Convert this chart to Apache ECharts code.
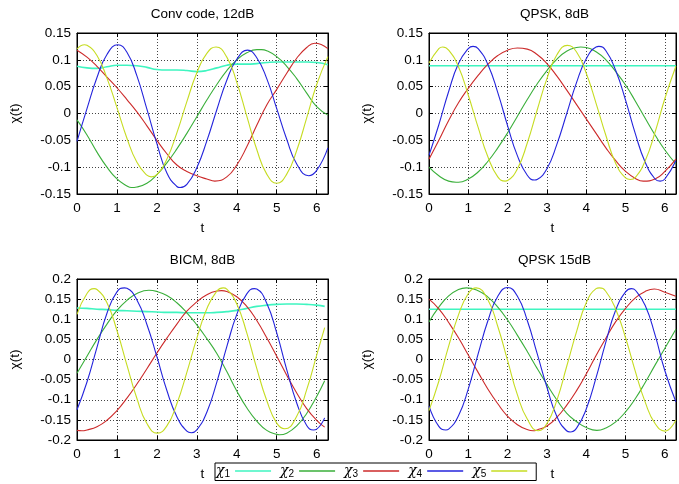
<!DOCTYPE html>
<html lang="en">
<head>
<meta charset="UTF-8">
<title>χ(t)</title>
<script src="https://cdn.jsdelivr.net/npm/echarts@6/dist/echarts.min.js"></script>
<style>
  html, body { margin: 0; padding: 0; background: #fff; }
  #box { width: 679px; height: 484px; }
</style>
</head>
<body>
<div id="box"></div>
<script>
// sample points along t (the BICM panel stops a bit earlier)
var tFull = [0, 0.25, 0.5, 0.75, 1, 1.25, 1.5, 1.75, 2, 2.25, 2.5, 2.75, 3, 3.25, 3.5, 3.75, 4, 4.25, 4.5, 4.75, 5, 5.25, 5.5, 5.75, 6, 6.28];
var tBicm = [0, 0.25, 0.5, 0.75, 1, 1.25, 1.5, 1.75, 2, 2.25, 2.5, 2.75, 3, 3.25, 3.5, 3.75, 4, 4.25, 4.5, 4.75, 5, 5.25, 5.5, 5.75, 6, 6.2];

var seriesNames = ['χ1', 'χ2', 'χ3', 'χ4', 'χ5'];
var panelTitles = ['Conv code, 12dB', 'QPSK, 8dB', 'BICM, 8dB', 'QPSK 15dB'];
var yTicksSmall = [-0.15, -0.1, -0.05, 0, 0.05, 0.1, 0.15];
var yTicksBig = [-0.2, -0.15, -0.1, -0.05, 0, 0.05, 0.1, 0.15, 0.2];

// Conv code, 12dB
var conv12_x1 = [0.088, 0.085, 0.084, 0.087, 0.090, 0.090, 0.089, 0.086, 0.082, 0.081, 0.081, 0.080, 0.078, 0.080, 0.085, 0.090, 0.092, 0.092, 0.093, 0.095, 0.096, 0.096, 0.096, 0.096, 0.095, 0.091];
var conv12_x2 = [-0.012, -0.040, -0.072, -0.100, -0.122, -0.135, -0.137, -0.130, -0.114, -0.092, -0.066, -0.037, -0.006, 0.025, 0.054, 0.080, 0.100, 0.113, 0.119, 0.117, 0.106, 0.088, 0.065, 0.038, 0.013, -0.003];
var conv12_x3 = [0.118, 0.105, 0.088, 0.068, 0.048, 0.026, 0.003, -0.023, -0.050, -0.075, -0.096, -0.108, -0.116, -0.122, -0.125, -0.118, -0.096, -0.062, -0.022, 0.016, 0.045, 0.075, 0.103, 0.123, 0.130, 0.121];
var conv12_x4 = [-0.052, 0.009, 0.067, 0.110, 0.128, 0.114, 0.070, 0.008, -0.056, -0.111, -0.136, -0.132, -0.101, -0.051, 0.007, 0.062, 0.101, 0.117, 0.104, 0.065, 0.009, -0.048, -0.094, -0.114, -0.106, -0.064];
var conv12_x5 = [0.120, 0.127, 0.108, 0.066, 0.011, -0.046, -0.091, -0.115, -0.114, -0.085, -0.036, 0.022, 0.076, 0.112, 0.124, 0.105, 0.058, -0.005, -0.067, -0.113, -0.129, -0.113, -0.069, -0.008, 0.054, 0.106];
// turning points [t, value]
var conv12_x2_ext = [[1.36, -0.138], [4.62, 0.119]];
var conv12_x3_ext = [[3.45, -0.126], [5.95, 0.131]];
var conv12_x4_ext = [[1.02, 0.128], [2.58, -0.138], [4.27, 0.118], [5.8, -0.116]];
var conv12_x5_ext = [[0.19, 0.128], [1.86, -0.118], [3.48, 0.124], [5.0, -0.13]];

// QPSK, 8dB
var qpsk8_x1 = [0.089, 0.089, 0.089, 0.089, 0.089, 0.089, 0.089, 0.089, 0.089, 0.089, 0.089, 0.089, 0.089, 0.089, 0.089, 0.089, 0.089, 0.089, 0.089, 0.089, 0.089, 0.089, 0.089, 0.089, 0.089, 0.089];
var qpsk8_x2 = [-0.100, -0.116, -0.126, -0.128, -0.122, -0.109, -0.089, -0.064, -0.036, -0.005, 0.026, 0.055, 0.080, 0.101, 0.116, 0.123, 0.123, 0.115, 0.100, 0.078, 0.053, 0.023, -0.009, -0.040, -0.068, -0.094];
var qpsk8_x3 = [-0.085, -0.050, -0.013, 0.020, 0.047, 0.071, 0.092, 0.108, 0.118, 0.122, 0.120, 0.110, 0.093, 0.070, 0.044, 0.017, -0.010, -0.037, -0.064, -0.088, -0.108, -0.121, -0.126, -0.122, -0.108, -0.085];
var qpsk8_x4 = [-0.078, -0.021, 0.041, 0.093, 0.121, 0.121, 0.091, 0.039, -0.023, -0.079, -0.115, -0.123, -0.103, -0.058, -0.001, 0.057, 0.102, 0.124, 0.117, 0.080, 0.025, -0.038, -0.091, -0.122, -0.122, -0.088];
var qpsk8_x5 = [0.094, 0.121, 0.118, 0.087, 0.034, -0.026, -0.081, -0.118, -0.125, -0.103, -0.055, 0.006, 0.065, 0.109, 0.127, 0.115, 0.075, 0.019, -0.041, -0.093, -0.120, -0.119, -0.088, -0.035, 0.028, 0.088];
var qpsk8_x2_ext = [[0.69, -0.128], [3.86, 0.124]];
var qpsk8_x3_ext = [[2.25, 0.122], [5.45, -0.126]];
var qpsk8_x4_ext = [[1.12, 0.125], [2.69, -0.124], [4.32, 0.125], [5.88, -0.126]];
var qpsk8_x5_ext = [[0.35, 0.124], [1.94, -0.126], [3.52, 0.127], [5.12, -0.123]];

// BICM, 8dB
var bicm8_x1 = [0.128, 0.127, 0.125, 0.124, 0.122, 0.121, 0.120, 0.119, 0.118, 0.117, 0.117, 0.116, 0.116, 0.116, 0.117, 0.119, 0.122, 0.127, 0.132, 0.135, 0.137, 0.138, 0.138, 0.137, 0.135, 0.132];
var bicm8_x2 = [-0.034, 0.008, 0.050, 0.088, 0.122, 0.147, 0.164, 0.172, 0.169, 0.159, 0.141, 0.116, 0.086, 0.052, 0.015, -0.030, -0.078, -0.120, -0.153, -0.176, -0.186, -0.183, -0.165, -0.134, -0.092, -0.053];
var bicm8_x3 = [-0.176, -0.175, -0.167, -0.151, -0.127, -0.096, -0.061, -0.023, 0.016, 0.053, 0.088, 0.120, 0.143, 0.161, 0.170, 0.169, 0.156, 0.132, 0.097, 0.054, 0.008, -0.039, -0.083, -0.122, -0.151, -0.168];
var bicm8_x4 = [-0.125, -0.056, 0.030, 0.115, 0.168, 0.177, 0.148, 0.087, 0.007, -0.077, -0.142, -0.178, -0.175, -0.131, -0.056, 0.032, 0.112, 0.163, 0.175, 0.140, 0.066, -0.025, -0.108, -0.164, -0.173, -0.145];
var bicm8_x5 = [0.112, 0.164, 0.174, 0.141, 0.072, -0.014, -0.097, -0.159, -0.183, -0.165, -0.110, -0.032, 0.053, 0.126, 0.170, 0.175, 0.138, 0.066, -0.022, -0.102, -0.158, -0.171, -0.141, -0.075, 0.011, 0.079];
var bicm8_x2_ext = [[1.8, 0.172], [5.07, -0.187]];
var bicm8_x3_ext = [[0.12, -0.177], [3.62, 0.171]];
var bicm8_x4_ext = [[1.19, 0.178], [2.86, -0.182], [4.44, 0.176], [5.92, -0.175]];
var bicm8_x5_ext = [[0.43, 0.176], [2.01, -0.183], [3.66, 0.178], [5.2, -0.172]];

// QPSK 15dB
var qpsk15_x1 = [0.125, 0.125, 0.125, 0.125, 0.125, 0.125, 0.125, 0.125, 0.125, 0.125, 0.125, 0.125, 0.125, 0.125, 0.125, 0.125, 0.125, 0.125, 0.125, 0.125, 0.125, 0.125, 0.125, 0.125, 0.125, 0.125];
var qpsk15_x2 = [0.093, 0.130, 0.158, 0.174, 0.178, 0.171, 0.155, 0.130, 0.098, 0.060, 0.020, -0.022, -0.062, -0.100, -0.133, -0.154, -0.169, -0.175, -0.170, -0.155, -0.130, -0.097, -0.057, -0.014, 0.028, 0.075];
var qpsk15_x3 = [0.150, 0.126, 0.092, 0.054, 0.011, -0.032, -0.074, -0.110, -0.141, -0.162, -0.174, -0.175, -0.165, -0.144, -0.114, -0.078, -0.036, 0.010, 0.053, 0.094, 0.127, 0.153, 0.169, 0.174, 0.167, 0.157];
var qpsk15_x4 = [-0.115, -0.166, -0.173, -0.140, -0.073, 0.014, 0.097, 0.157, 0.178, 0.157, 0.097, 0.015, -0.069, -0.141, -0.177, -0.171, -0.123, -0.045, 0.044, 0.123, 0.168, 0.172, 0.134, 0.061, -0.028, -0.105];
var qpsk15_x5 = [-0.127, -0.054, 0.033, 0.111, 0.164, 0.177, 0.148, 0.082, -0.003, -0.088, -0.148, -0.176, -0.159, -0.102, -0.018, 0.068, 0.141, 0.176, 0.169, 0.125, 0.054, -0.030, -0.106, -0.159, -0.177, -0.150];
var qpsk15_x2_ext = [[0.95, 0.178], [4.27, -0.176]];
var qpsk15_x3_ext = [[2.65, -0.177], [5.73, 0.175]];
var qpsk15_x4_ext = [[0.43, -0.175], [2.0, 0.179], [3.59, -0.18], [5.15, 0.176]];
var qpsk15_x5_ext = [[1.2, 0.178], [2.78, -0.177], [4.33, 0.178], [6.0, -0.178]];

var panels = [
    { t: tFull, ticks: yTicksSmall,
      lines: [conv12_x1, conv12_x2, conv12_x3, conv12_x4, conv12_x5],
      ext: [null, conv12_x2_ext, conv12_x3_ext, conv12_x4_ext, conv12_x5_ext] },
    { t: tFull, ticks: yTicksSmall,
      lines: [qpsk8_x1, qpsk8_x2, qpsk8_x3, qpsk8_x4, qpsk8_x5],
      ext: [null, qpsk8_x2_ext, qpsk8_x3_ext, qpsk8_x4_ext, qpsk8_x5_ext] },
    { t: tBicm, ticks: yTicksBig,
      lines: [bicm8_x1, bicm8_x2, bicm8_x3, bicm8_x4, bicm8_x5],
      ext: [null, bicm8_x2_ext, bicm8_x3_ext, bicm8_x4_ext, bicm8_x5_ext] },
    { t: tFull, ticks: yTicksBig,
      lines: [qpsk15_x1, qpsk15_x2, qpsk15_x3, qpsk15_x4, qpsk15_x5],
      ext: [null, qpsk15_x2_ext, qpsk15_x3_ext, qpsk15_x4_ext, qpsk15_x5_ext] }
];

var colors = ['#3ff5c0', '#3aaf3a', '#cc2a2a', '#2424dc', '#c6dc22'];
var FONT = 'Liberation Sans';
var FS = 13.5;

// panel boxes: left, top
var boxes = [[77, 33], [429, 33], [77, 279], [429, 279]];
var BW = 251, BH = 161;

// samples plus turning points, sorted by t
function toPoints(t, vals, ext) {
    var pts = t.map(function (x, j) { return [x, vals[j]]; });
    if (ext) {
        pts = pts.filter(function (p) {
            return !ext.some(function (e) { return Math.abs(e[0] - p[0]) < 0.055; });
        }).concat(ext);
        pts.sort(function (a, b) { return a[0] - b[0]; });
    }
    return pts;
}

var myChart = echarts.init(document.getElementById('box'));

var grids = [], xAxes = [], yAxes = [], titles = [], series = [];

var dotted = { show: true, lineStyle: { color: '#444', width: 1, type: [1, 2] } };

boxes.forEach(function (b, i) {
    var p = panels[i];
    var yMin = p.ticks[0], yMax = p.ticks[p.ticks.length - 1];
    grids.push({ left: b[0], top: b[1], width: BW, height: BH, show: true, borderColor: '#000', borderWidth: 1, containLabel: false });
    titles.push({
        text: panelTitles[i], left: b[0] + BW / 2, top: b[1] - 26, textAlign: 'center', padding: 0,
        textStyle: { fontFamily: FONT, fontSize: FS, fontWeight: 'normal', color: '#000' }
    });
    // bottom x axis
    xAxes.push({
        type: 'value', gridIndex: i, min: 0, max: 2 * Math.PI, interval: 1, position: 'bottom',
        name: 't', nameLocation: 'middle', nameGap: 27,
        nameTextStyle: { fontFamily: FONT, fontSize: FS, color: '#000' },
        axisLine: { show: true, onZero: false, lineStyle: { color: '#000' } },
        axisTick: { inside: true, length: 4, lineStyle: { color: '#000' } },
        axisLabel: {
            margin: 7, fontFamily: FONT, fontSize: FS, color: '#000',
            formatter: function (v) { return Math.abs(v - Math.round(v)) < 1e-6 ? String(Math.round(v)) : ''; }
        },
        splitLine: dotted
    });
    // mirrored top ticks
    xAxes.push({
        type: 'value', gridIndex: i, min: 0, max: 2 * Math.PI, interval: 1, position: 'top',
        axisLine: { show: true, onZero: false, lineStyle: { color: '#000' } },
        axisTick: { inside: true, length: 4, lineStyle: { color: '#000' } },
        axisLabel: { show: false }, splitLine: { show: false }
    });
    yAxes.push({
        type: 'value', gridIndex: i, min: yMin, max: yMax, interval: 0.05, position: 'left',
        name: 'χ(t)', nameLocation: 'middle', nameGap: 55, nameRotate: 90,
        nameTextStyle: { fontFamily: FONT, fontSize: FS, color: '#000' },
        axisLine: { show: true, onZero: false, lineStyle: { color: '#000' } },
        axisTick: { inside: true, length: 4, lineStyle: { color: '#000' } },
        axisLabel: { margin: 6, fontFamily: FONT, fontSize: FS, color: '#000' },
        splitLine: dotted
    });
    yAxes.push({
        type: 'value', gridIndex: i, min: yMin, max: yMax, interval: 0.05, position: 'right',
        axisLine: { show: true, onZero: false, lineStyle: { color: '#000' } },
        axisTick: { inside: true, length: 4, lineStyle: { color: '#000' } },
        axisLabel: { show: false }, splitLine: { show: false }
    });
    p.lines.forEach(function (vals, k) {
        series.push({
            name: seriesNames[k], type: 'line', xAxisIndex: 2 * i, yAxisIndex: 2 * i,
            data: toPoints(p.t, vals, p.ext[k]),
            smooth: 0.5, showSymbol: false, symbol: 'none', silent: true,
            lineStyle: { color: colors[k], width: k === 0 ? 1.6 : 1.1 },
            itemStyle: { color: colors[k] }
        });
    });
});

var option = {
    animation: false,
    title: titles,
    grid: grids,
    xAxis: xAxes,
    yAxis: yAxes,
    legend: {
        data: seriesNames, left: 215, top: 463, orient: 'horizontal', align: 'right',
        icon: 'rect', itemWidth: 36, itemHeight: 1.3, itemGap: 9, padding: [1, 9, 1, 1],
        borderColor: '#000', borderWidth: 1, borderRadius: 0,
        formatter: function (n) { return '{c|χ}{s|' + n.slice(1) + '}'; },
        textStyle: {
            color: '#000', fontFamily: FONT, fontSize: 14,
            rich: {
                c: { fontFamily: 'DejaVu Serif', fontStyle: 'italic', fontSize: 14, color: '#000' },
                s: { fontFamily: FONT, fontSize: 10, color: '#000', padding: [7, 0, 0, 0] }
            }
        }
    },
    series: series
};

myChart.setOption(option);
</script>
</body>
</html>
